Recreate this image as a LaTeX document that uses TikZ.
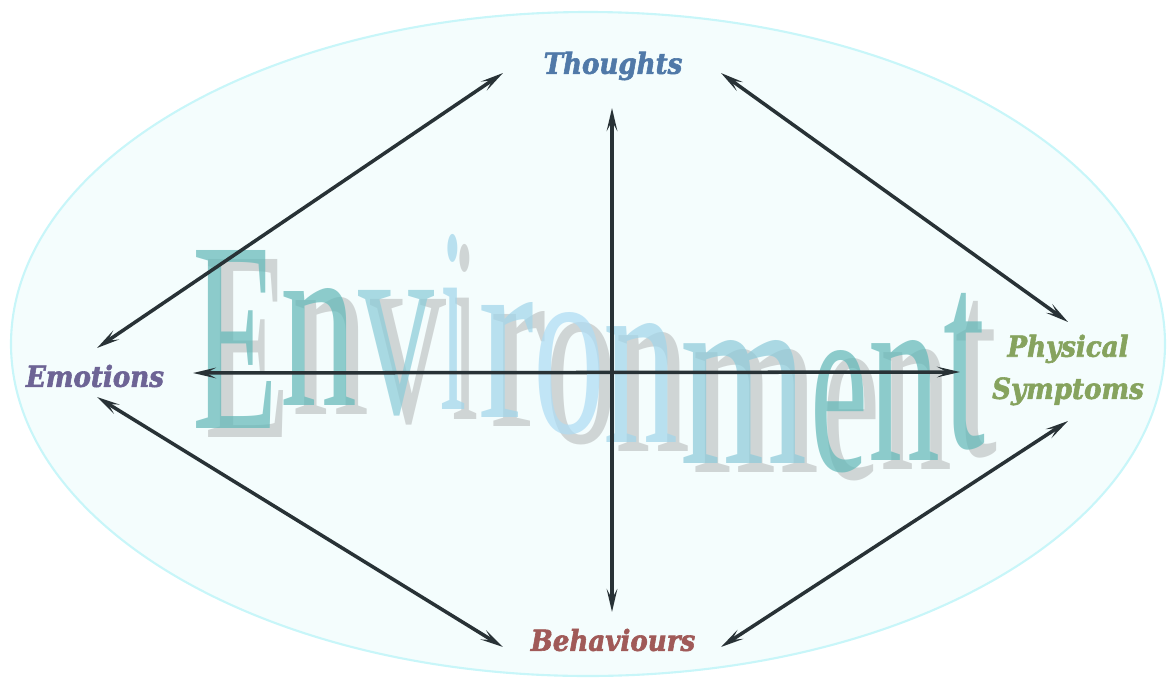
\documentclass[tikz,border=0pt]{standalone}
\usepackage{fontspec}
\usepackage{graphicx}
\usetikzlibrary{arrows.meta,positioning}
\newfontfamily\labelfont{DejaVu Serif Bold Italic}[FakeBold=2,FakeStretch=0.9]
\newfontfamily\wordfont{Liberation Serif}
\definecolor{ringcol}{HTML}{C8F6F9}
\definecolor{ringfill}{HTML}{F4FDFD}
\definecolor{arrowcol}{HTML}{283236}
\definecolor{thoughtscol}{HTML}{5079A8}
\definecolor{emotionscol}{HTML}{6D6495}
\definecolor{physicalcol}{HTML}{86A35E}
\definecolor{behaviourscol}{HTML}{A05A58}
\definecolor{shadowcol}{HTML}{C2C6C6}
\definecolor{envteal}{HTML}{64B9B9}
\definecolor{envsea}{HTML}{8CCCD8}
\definecolor{envsky}{HTML}{A2D6EA}
\definecolor{envice}{HTML}{AEDCF4}
\definecolor{envmist}{HTML}{8ECBDA}
\newdimen\pxu \pxu=0.02cm
\newif\ifenvshadow
\def\envdx{0pt}\def\envdy{0pt}
\newcommand\envchar[6]{\rlap{\hspace*{\dimexpr#1\pxu+\envdx\relax}%
  \raisebox{\dimexpr#2\pxu-\envdy\relax}{\resizebox{#3\pxu}{#4\pxu}{%
  \ifenvshadow\color{shadowcol}\else\color{#6}\fi\wordfont #5}}}}
\newcommand\envletters{%
  \envchar{0}{42}{86}{178}{E}{envteal}%
  \envchar{88}{65}{77}{117}{n}{envteal}%
  \envchar{166}{57}{76}{123}{v}{envsea}%
  \envchar{248}{60}{26}{175}{i}{envsky}%
  \envchar{286}{53}{56}{115}{r}{envsky}%
  \envchar{341}{37}{72}{120}{o}{envice}%
  \envchar{411}{28}{75}{119}{n}{envsky}%
  \envchar{488}{7}{127}{123}{m}{envmist}%
  \envchar{618}{0}{58}{120}{e}{envteal}%
  \envchar{676}{10}{72}{120}{n}{envteal}%
  \envchar{751}{23}{42}{154}{t}{envteal}}
\tikzset{
  word/.style={anchor=base west, inner sep=0pt, text opacity=0.72},
  partlabel/.style={font=\labelfont\fontsize{16.5}{24}\selectfont, align=center, inner sep=0pt},
  link/.style={<->, >={Stealth[length=13pt,width=6pt,inset=5.5pt]}, line width=2pt, draw=arrowcol},
}
\begin{document}
\begin{tikzpicture}[x=0.02cm,y=-0.02cm]
\useasboundingbox (0,0) rectangle (1174,680);
\draw[ringcol, fill=ringfill, line width=1.2pt] (588,344) ellipse [x radius=577, y radius=332];
\node[word] (environment) at (192,470) {\envshadowtrue\def\envdx{12\pxu}\def\envdy{9\pxu}\envletters
  \envshadowfalse\def\envdx{0pt}\def\envdy{0pt}\envletters\hspace*{805\pxu}};
\node[partlabel, text=thoughtscol] (thoughts) at (613,66) {Thoughts};
\node[partlabel, text=emotionscol] (emotions) at (95,376) {Emotions};
\node[partlabel, text=physicalcol] (physical) at (1068,370) {Physical\\Symptoms};
\node[partlabel, text=behaviourscol] (behaviours) at (613,640) {Behaviours};
\coordinate (th-l) at (503,73);
\coordinate (th-r) at (721,73);
\coordinate (th-b) at (612,108);
\coordinate (em-t) at (97,348);
\coordinate (em-r) at (193,373);
\coordinate (em-b) at (97,397);
\coordinate (ph-t) at (1068,322);
\coordinate (ph-l) at (960,372);
\coordinate (ph-b) at (1068,421);
\coordinate (be-l) at (503,647);
\coordinate (be-t) at (612,612);
\coordinate (be-r) at (721,647);
\draw[link] (th-l) -- (em-t);
\draw[link] (th-r) -- (ph-t);
\draw[link] (th-b) -- (be-t);
\draw[link] (em-r) -- (ph-l);
\draw[link] (em-b) -- (be-l);
\draw[link] (ph-b) -- (be-r);
\end{tikzpicture}
\end{document}
